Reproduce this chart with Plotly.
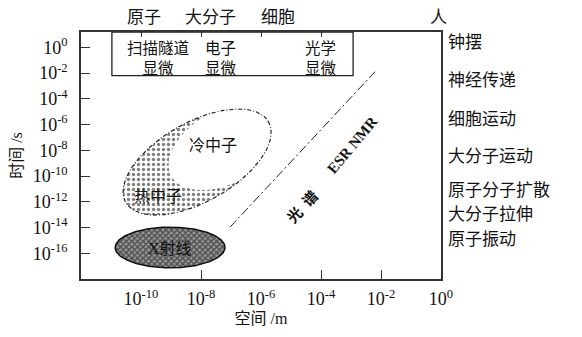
import numpy as np
import plotly.graph_objects as go

# Axis values are log10 exponents
x_ticks = [-10, -8, -6, -4, -2, 0]
y_ticks = [0, -2, -4, -6, -8, -10, -12, -14, -16]
x_range = [-12, 0]
y_range = [-18, 1.2]

# Size scale labels along the top
top_labels = ["原子", "大分子", "细胞", "人"]
top_label_x = [-9.9, -7.7, -5.45, -0.1]

# Time scale phenomena along the right
right_labels = ["钟摆", "神经传递", "细胞运动", "大分子运动", "原子分子扩散", "大分子拉伸", "原子振动"]
right_label_y = [0.4, -2.6, -5.6, -8.5, -11.1, -13.0, -14.9]

# Microscopy box (x from / to, y bottom)
scope_box = [-10.97, -2.93, -2.19]
scope_labels = ["扫描隧道<br>显微", "电子<br>显微", "光学<br>显微"]
scope_label_x = [-9.45, -7.33, -4.0]

# Neutron ellipses: centre, conjugate half-axes (decades)
cold_center, cold_u, cold_v = (-8.13, -8.91), (2.37, 3.17), (0.69, -2.64)
clear_center, clear_u, clear_v = (-7.1, -7.6), (1.88, 2.45), (0.63, -2.48)
xray_center, xray_u, xray_v = (-9.03, -15.55), (1.83, 0.0), (0.0, 1.58)

# Spectroscopy boundary
spec_x = [-7.03, -2.2]
spec_y = [-13.96, -1.89]

CJK = "Liberation Serif, Noto Sans CJK SC"


def ellipse(c, u, v, n=240):
    t = np.linspace(0, 2 * np.pi, n)
    return c[0] + u[0] * np.cos(t) + v[0] * np.sin(t), c[1] + u[1] * np.cos(t) + v[1] * np.sin(t)


fig = go.Figure()

# thermal neutrons: stippled region of the ellipse
ex, ey = ellipse(cold_center, cold_u, cold_v)
fig.add_trace(go.Scatter(x=ex, y=ey, mode="lines", fill="toself", line=dict(width=0),
                         fillcolor="white",
                         fillpattern=dict(shape=".", size=5, solidity=0.35, fgcolor="#000", bgcolor="white"),
                         hoverinfo="skip", showlegend=False))
# cold neutrons: clear part
cx, cy = ellipse(clear_center, clear_u, clear_v)
fig.add_trace(go.Scatter(x=cx, y=cy, mode="lines", fill="toself", line=dict(width=0),
                         fillcolor="white", hoverinfo="skip", showlegend=False))
# outline
fig.add_trace(go.Scatter(x=ex, y=ey, mode="lines",
                         line=dict(color="#222", width=1.2, dash="4px,2px,1px,2px"),
                         hoverinfo="skip", showlegend=False))
# X-ray ellipse: dark halftone mesh
xx, xy = ellipse(xray_center, xray_u, xray_v)
fig.add_trace(go.Scatter(x=xx, y=xy, mode="lines", fill="toself",
                         line=dict(color="#111", width=1.5),
                         fillcolor="#888",
                         fillpattern=dict(shape="x", size=4, solidity=0.6, fgcolor="#000", bgcolor="#9a9a9a"),
                         hoverinfo="skip", showlegend=False))
# spectroscopy line
fig.add_trace(go.Scatter(x=spec_x, y=spec_y, mode="lines",
                         line=dict(color="#222", width=1, dash="9px,3px,2px,3px"),
                         hoverinfo="skip", showlegend=False))
# top tick axis helper
fig.add_trace(go.Scatter(x=x_range, y=y_range, mode="markers", marker=dict(opacity=0),
                         xaxis="x2", hoverinfo="skip", showlegend=False))

# microscopy box
fig.add_shape(type="rect", xref="x", yref="y", x0=scope_box[0], x1=scope_box[1],
              y0=scope_box[2], y1=y_range[1], line=dict(color="#222", width=1.3))

for t, x in zip(scope_labels, scope_label_x):
    fig.add_annotation(x=x, y=-0.85, xref="x", yref="y", text=t, showarrow=False,
                       font=dict(family=CJK, size=15.5, color="#111"), align="center")

for t, x in zip(top_labels, top_label_x):
    fig.add_annotation(x=x, y=1, xref="x", yref="paper", yanchor="bottom", yshift=3,
                       text=t, showarrow=False, font=dict(family=CJK, size=17, color="#111"))

for t, y in zip(right_labels, right_label_y):
    fig.add_annotation(x=1, y=y, xref="paper", yref="y", xanchor="left", xshift=5,
                       text=t, showarrow=False, font=dict(family=CJK, size=17, color="#111"))

# region labels
fig.add_annotation(x=-7.6, y=-7.6, xref="x", yref="y", text="冷中子", showarrow=False,
                   font=dict(family=CJK, size=16, color="#111"))
fig.add_annotation(x=-9.43, y=-11.55, xref="x", yref="y", text="热中子", showarrow=False,
                   font=dict(family=CJK, size=16, color="#111"))
fig.add_annotation(x=-9.03, y=-15.6, xref="x", yref="y", text="X射线", showarrow=False,
                   font=dict(family=CJK, size=16, color="#111"), bgcolor="rgba(255,255,255,0)")
fig.add_annotation(x=-2.95, y=-7.6, xref="x", yref="y", text="<b>ESR NMR</b>", showarrow=False,
                   textangle=-50, font=dict(family=CJK, size=15, color="#111"))
fig.add_annotation(x=-4.6, y=-12.4, xref="x", yref="y", text="<b>光  谱</b>", showarrow=False,
                   textangle=-47, font=dict(family=CJK, size=15, color="#111"))

tick_font = dict(family="Liberation Serif", size=18, color="#111")

fig.update_layout(
    width=582, height=337,
    margin=dict(l=81, r=141, t=32, b=51),
    plot_bgcolor="white", paper_bgcolor="white",
    xaxis=dict(range=x_range, tickmode="array", tickvals=x_ticks,
               ticktext=[f"10<sup>{v}</sup>" for v in x_ticks],
               ticks="", showgrid=False, zeroline=False,
               showline=True, linecolor="#333", linewidth=1.5, mirror=True,
               tickfont=tick_font, ticklabelstandoff=3,
               minor=dict(tickmode="array", tickvals=[-8, -4, -2], ticks="inside",
                          ticklen=9, tickcolor="#333", tickwidth=1.2),
               title=dict(text="空间 /m", font=dict(family=CJK, size=16, color="#111"), standoff=4)),
    xaxis2=dict(range=x_range, overlaying="x", side="top", tickmode="array",
                tickvals=[-10, -8, -6, -4], ticks="inside", ticklen=5, tickcolor="#333",
                showticklabels=False, showgrid=False, zeroline=False, showline=False),
    yaxis=dict(range=y_range, tickmode="array", tickvals=y_ticks,
               ticktext=[f"10<sup>{v}</sup>" for v in y_ticks],
               ticks="inside", ticklen=9, tickcolor="#333", tickwidth=1.2,
               showgrid=False, zeroline=False,
               showline=True, linecolor="#333", linewidth=1.5, mirror=True,
               tickfont=tick_font, ticklabelstandoff=8,
               title=dict(text="时间 /s", font=dict(family=CJK, size=16, color="#111"), standoff=6)),
)

fig.write_html("out.html")
